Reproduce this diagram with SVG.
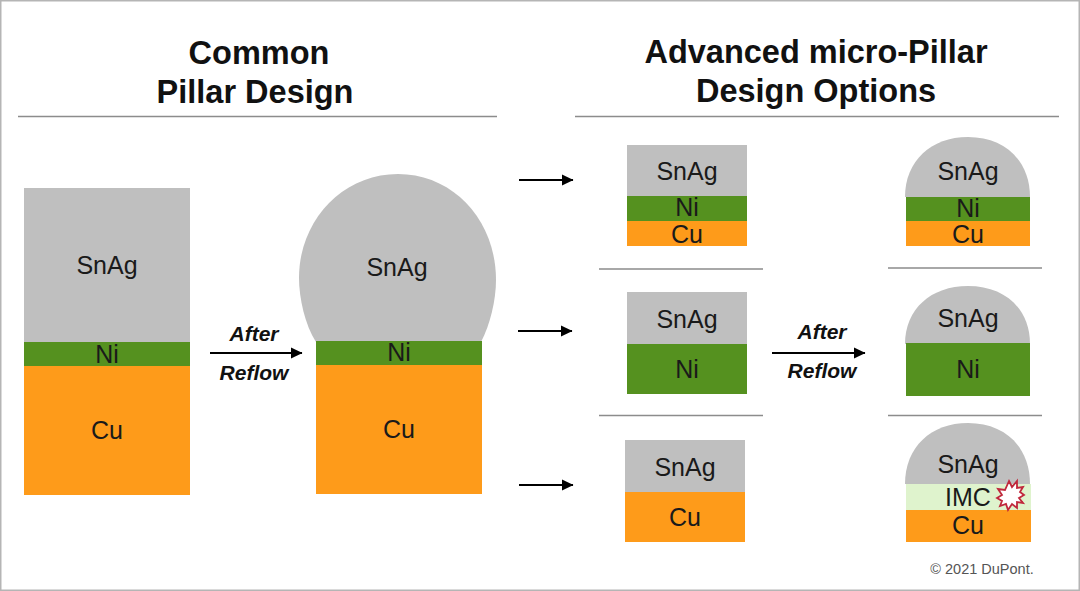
<svg xmlns="http://www.w3.org/2000/svg" width="1080" height="591" viewBox="0 0 1080 591">
<style>
text{font-family:"Liberation Sans",Arial,sans-serif;text-anchor:middle;fill:#1a1a1a;font-size:25px}
.h{font-weight:bold;font-size:32.500px;fill:#111}
.af{font-weight:bold;font-style:italic;font-size:21px;fill:#111}
.s{fill:#bfbfbf}.n{fill:#55911f}.c{fill:#fe9b1a}.i{fill:#dff3cd}
.r{stroke:#8c8c8c;stroke-width:1.5;fill:none}
.a{stroke:#000;stroke-width:1.8;fill:none;marker-end:url(#ah)}
</style>
<defs><marker id="ah" markerUnits="userSpaceOnUse" markerWidth="12" markerHeight="12" refX="11" refY="6" orient="auto"><path d="M0 0.500L11.500 6L0 11.500Z" fill="#000"/></marker></defs>
<rect width="1080" height="591" fill="#fff"/>
<rect x="0.500" y="0.500" width="1079" height="590" fill="none" stroke="#b5b5b5" stroke-width="2"/>
<g id="titles">
<text class="h" x="259" y="64">Common</text><text class="h" x="255" y="103">Pillar Design</text>
<text class="h" x="816" y="63">Advanced micro-Pillar</text><text class="h" x="816" y="102">Design Options</text>
</g>
<g id="rules">
<path class="r" d="M18 116.500H497M575 116.500H1059M599 269H763M888 268H1042M599 415.500H763M888 415.500H1042"/>
</g>
<g id="connectors">
<path class="a" d="M519 180H573"/><path class="a" d="M518 331H572"/><path class="a" d="M519 485H573"/>
<path class="a" d="M210 353H302"/><path class="a" d="M772 353H865"/>
</g>
<g id="common-before">
<rect class="s" x="24" y="188" width="166" height="154"/><rect class="n" x="24" y="342" width="166" height="24"/><rect class="c" x="24" y="366" width="166" height="129"/>
<text x="107" y="274">SnAg</text><text x="107" y="363">Ni</text><text x="107" y="439">Cu</text>
</g>
<g id="after-left"><text class="af" x="254" y="341">After</text><text class="af" x="254" y="380">Reflow</text></g>
<g id="common-after">
<path class="s" d="M316 342C305 325 299 298 299 278C299 220 343 174 398 174C453 174 496 220 496 280C496 300 490 325 481 342Z"/>
<rect class="n" x="316" y="341" width="166" height="24"/><rect class="c" x="316" y="365" width="166" height="129"/>
<text x="397" y="276">SnAg</text><text x="399" y="361">Ni</text><text x="399" y="438">Cu</text>
</g>
<g id="opt1-before">
<rect class="s" x="627" y="145" width="120" height="52"/><rect class="n" x="627" y="196" width="120" height="25"/><rect class="c" x="627" y="221" width="120" height="25"/>
<text x="687" y="180">SnAg</text><text x="687" y="216">Ni</text><text x="687" y="243">Cu</text>
</g>
<g id="opt2-before">
<rect class="s" x="627" y="292" width="120" height="52"/><rect class="n" x="627" y="344" width="120" height="50"/>
<text x="687" y="328">SnAg</text><text x="687" y="378">Ni</text>
</g>
<g id="opt3-before">
<rect class="s" x="625" y="440" width="120" height="52"/><rect class="c" x="625" y="492" width="120" height="50"/>
<text x="685" y="476">SnAg</text><text x="685" y="526">Cu</text>
</g>
<g id="after-right"><text class="af" x="822" y="339">After</text><text class="af" x="822" y="378">Reflow</text></g>
<g id="opt1-after">
<path class="s" d="M905 197C905 161 931 137 968 137C1005 137 1030 161 1030 197Z"/>
<rect class="n" x="906" y="197" width="124" height="24"/><rect class="c" x="906" y="221" width="124" height="25"/>
<text x="968" y="180">SnAg</text><text x="968" y="217">Ni</text><text x="968" y="243">Cu</text>
</g>
<g id="opt2-after">
<path class="s" d="M905 344C905 309 931 286 968 286C1005 286 1030 309 1030 344Z"/>
<rect class="n" x="906" y="343" width="124" height="53"/>
<text x="968" y="327">SnAg</text><text x="968" y="378">Ni</text>
</g>
<g id="opt3-after">
<path class="s" d="M905 484C905 447 931 423 968 423C1005 423 1030 447 1030 484Z"/>
<rect class="i" x="906" y="484" width="125" height="26"/><rect class="c" x="906" y="510" width="125" height="32"/>
<text x="968" y="473">SnAg</text><text x="968" y="506">IMC</text><text x="968" y="534">Cu</text>
<path d="M1009 481L1012 487L1017 481L1017 488L1023 487L1020 492L1024 495L1019 498L1023 503L1017 502L1017 508L1012 504L1008 510L1006 504L1000 506L1002 501L997 498L1002 495L998 489L1005 490Z" fill="#fff" stroke="#c0283c" stroke-width="1.800" stroke-linejoin="miter"/>
</g>
<text x="982" y="574" style="font-size:14.500px;fill:#555">© 2021 DuPont.</text>
</svg>
